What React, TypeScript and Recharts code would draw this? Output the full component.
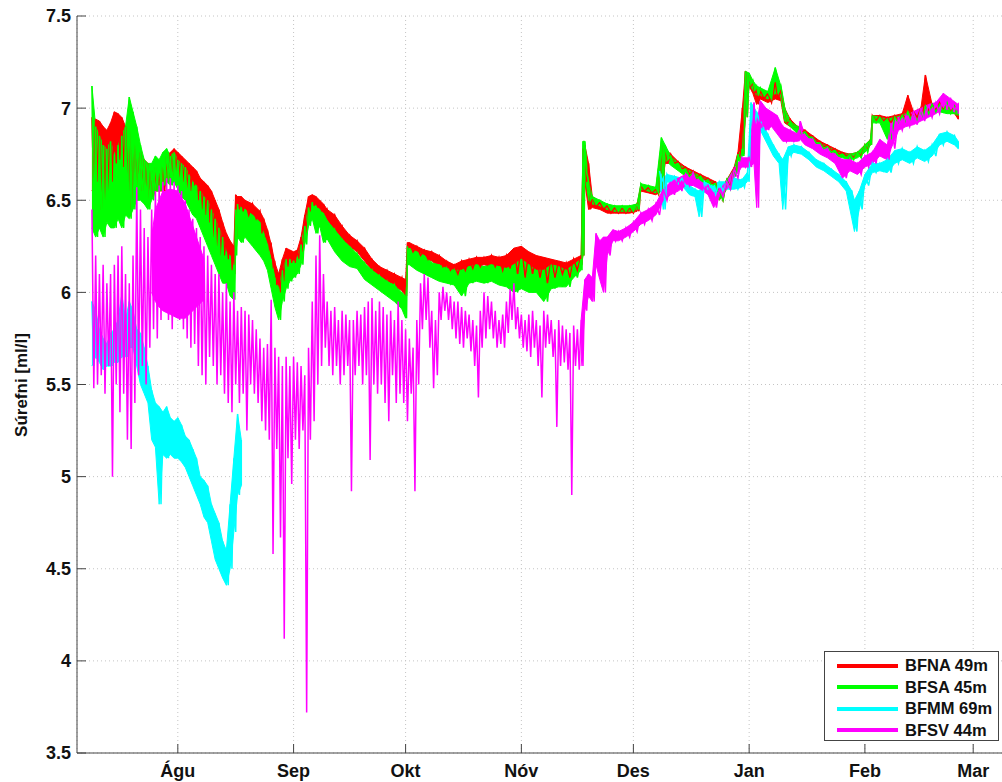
import { ComposedChart, Line, Area, XAxis, YAxis, CartesianGrid, Legend } from "recharts";

// [day since 1 Águ, low, high]
type Sample = [number, number, number];

const MONTH_DAYS = [0, 31, 61, 92, 122, 153, 184, 213];
const MONTH_LABELS = ["Águ", "Sep", "Okt", "Nóv", "Des", "Jan", "Feb", "Mar"];
const Y_TICKS = [3.5, 4, 4.5, 5, 5.5, 6, 6.5, 7, 7.5];

const BFNA: Sample[] = [
  [-23, 6.55, 6.95], [-22, 6.6, 6.94], [-21, 6.45, 6.93], [-20, 6.5, 6.9], [-19, 6.55, 6.88],
  [-18, 6.6, 6.92], [-17, 6.7, 6.98], [-16, 6.72, 6.97], [-15, 6.68, 6.95], [-14, 6.6, 6.9],
  [-13, 6.45, 6.88], [-12, 6.55, 6.85], [-11, 6.58, 6.8], [-10, 6.55, 6.76], [-9, 6.55, 6.72],
  [-8, 6.5, 6.7], [-7, 6.52, 6.66], [-6, 6.55, 6.68], [-5, 6.55, 6.65], [-4, 6.55, 6.7],
  [-3, 6.6, 6.74], [-2, 6.62, 6.76], [-1, 6.65, 6.78], [0, 6.62, 6.76], [1, 6.6, 6.74],
  [2, 6.55, 6.72], [3, 6.55, 6.7], [4, 6.58, 6.68], [5, 6.5, 6.66], [6, 6.45, 6.62],
  [7, 6.42, 6.6], [8, 6.38, 6.58], [9, 6.3, 6.55], [10, 6.25, 6.5], [11, 6.2, 6.45],
  [12, 6.2, 6.38], [13, 6.18, 6.32], [14, 6.12, 6.28], [15, 6.1, 6.25], [15.5, 6.3, 6.53],
  [16, 6.45, 6.52], [17, 6.44, 6.52], [18, 6.42, 6.5], [20, 6.4, 6.48], [22, 6.32, 6.44],
  [23, 6.3, 6.4], [24, 6.24, 6.34], [25, 6.14, 6.26], [26, 6.04, 6.16], [27, 6.0, 6.1],
  [28, 6.06, 6.18], [29, 6.14, 6.24], [30, 6.16, 6.23], [31, 6.16, 6.22], [32, 6.18, 6.23],
  [33, 6.22, 6.3], [34, 6.32, 6.42], [35, 6.44, 6.52], [36, 6.47, 6.53], [37, 6.46, 6.52],
  [38, 6.44, 6.5], [39, 6.42, 6.48], [40, 6.38, 6.45], [42, 6.33, 6.42], [44, 6.28, 6.36],
  [46, 6.25, 6.31], [48, 6.22, 6.28], [50, 6.17, 6.24], [52, 6.12, 6.18], [54, 6.09, 6.14],
  [56, 6.06, 6.12], [58, 6.03, 6.1], [60, 6.01, 6.08], [61, 5.98, 6.07], [61.5, 6.2, 6.27],
  [62, 6.22, 6.27], [64, 6.2, 6.25], [66, 6.18, 6.23], [68, 6.17, 6.22], [70, 6.14, 6.2],
  [72, 6.12, 6.17], [74, 6.1, 6.15], [76, 6.12, 6.17], [78, 6.13, 6.18], [80, 6.14, 6.19],
  [82, 6.15, 6.19], [84, 6.14, 6.2], [86, 6.12, 6.19], [88, 6.13, 6.2], [90, 6.1, 6.24],
  [92, 6.08, 6.25], [94, 6.1, 6.22], [96, 6.08, 6.2], [98, 6.05, 6.19], [100, 6.08, 6.18],
  [102, 6.1, 6.17], [104, 6.08, 6.16], [106, 6.12, 6.18], [108, 6.15, 6.2], [108.5, 6.2, 6.78],
  [109, 6.6, 6.8], [110, 6.45, 6.7], [111, 6.46, 6.52], [113, 6.45, 6.49], [115, 6.43, 6.47],
  [117, 6.43, 6.46], [119, 6.43, 6.46], [121, 6.43, 6.46], [123, 6.44, 6.48], [124, 6.55, 6.58],
  [126, 6.54, 6.57], [128, 6.53, 6.56], [129.5, 6.55, 6.8], [130.5, 6.7, 6.78], [132, 6.7, 6.75],
  [134, 6.67, 6.71], [136, 6.64, 6.68], [138, 6.62, 6.66], [140, 6.61, 6.64], [142, 6.59, 6.62],
  [144, 6.56, 6.6], [145, 6.5, 6.56], [147, 6.57, 6.61], [149, 6.64, 6.68], [150, 6.72, 6.76],
  [151.2, 6.75, 7.0], [152, 6.95, 7.2], [153, 7.12, 7.18], [154, 7.08, 7.14], [155, 7.02, 7.1],
  [156, 7.05, 7.1], [158, 7.03, 7.08], [160, 7.05, 7.14], [161.5, 7.04, 7.1], [162.5, 6.92, 7.0],
  [164, 6.9, 6.94], [166, 6.87, 6.9], [168, 6.85, 6.88], [170, 6.82, 6.85], [172, 6.79, 6.82],
  [174, 6.77, 6.8], [176, 6.75, 6.78], [178, 6.74, 6.76], [180, 6.73, 6.75], [182, 6.74, 6.76],
  [184, 6.77, 6.8], [185.5, 6.8, 6.83], [186, 6.93, 6.96], [188, 6.93, 6.96], [190, 6.92, 6.95],
  [192, 6.93, 6.96], [194, 6.94, 6.97], [195.5, 6.95, 7.07], [197, 6.95, 6.98], [199, 6.96, 7.0],
  [200.2, 6.98, 7.18], [202, 6.99, 7.02], [204, 6.99, 7.03], [206, 6.98, 7.02], [208, 6.97, 7.01],
  [209, 6.94, 6.97],
];

const BFSA: Sample[] = [
  [-23, 6.35, 7.12], [-22, 6.3, 6.9], [-21, 6.35, 6.85], [-20, 6.3, 6.8], [-19, 6.38, 6.78],
  [-18, 6.35, 6.82], [-17, 6.35, 6.75], [-16, 6.4, 6.8], [-15, 6.35, 6.85], [-14, 6.42, 6.9],
  [-13, 6.4, 7.06], [-12, 6.45, 6.98], [-11, 6.5, 6.9], [-10, 6.5, 6.8], [-9, 6.48, 6.72],
  [-8, 6.45, 6.7], [-7, 6.5, 6.7], [-6, 6.55, 6.74], [-5, 6.55, 6.72], [-4, 6.58, 6.76],
  [-3, 6.6, 6.78], [-2, 6.58, 6.74], [-1, 6.6, 6.76], [0, 6.56, 6.72], [1, 6.52, 6.7],
  [2, 6.5, 6.68], [3, 6.46, 6.64], [4, 6.42, 6.6], [5, 6.4, 6.58], [6, 6.35, 6.55],
  [7, 6.3, 6.52], [8, 6.25, 6.5], [9, 6.2, 6.45], [10, 6.15, 6.4], [11, 6.1, 6.35],
  [12, 6.05, 6.3], [13, 6.05, 6.22], [14, 5.98, 6.2], [15, 5.96, 6.15], [15.5, 6.2, 6.45],
  [16, 6.3, 6.48], [17, 6.27, 6.46], [18, 6.3, 6.45], [20, 6.25, 6.42], [22, 6.2, 6.38],
  [23, 6.17, 6.32], [24, 6.12, 6.26], [25, 6.02, 6.18], [26, 5.92, 6.08], [27, 5.85, 6.02],
  [28, 5.95, 6.12], [29, 6.02, 6.18], [30, 6.06, 6.18], [31, 6.08, 6.17], [32, 6.1, 6.19],
  [33, 6.15, 6.26], [34, 6.26, 6.36], [35, 6.36, 6.46], [36, 6.4, 6.49], [37, 6.32, 6.47],
  [38, 6.36, 6.45], [39, 6.27, 6.43], [40, 6.29, 6.39], [42, 6.22, 6.34], [44, 6.17, 6.29],
  [46, 6.14, 6.25], [48, 6.13, 6.21], [50, 6.07, 6.16], [52, 6.04, 6.12], [54, 6.01, 6.09],
  [56, 5.98, 6.06], [58, 5.95, 6.04], [60, 5.91, 6.0], [61, 5.86, 5.98], [61.5, 6.15, 6.25],
  [62, 6.15, 6.24], [64, 6.12, 6.22], [66, 6.1, 6.2], [68, 6.08, 6.16], [70, 6.06, 6.15],
  [72, 6.05, 6.13], [74, 6.04, 6.12], [76, 5.98, 6.12], [78, 6.05, 6.14], [80, 6.06, 6.15],
  [82, 6.05, 6.14], [84, 6.06, 6.15], [86, 6.04, 6.14], [88, 6.03, 6.13], [90, 6.0, 6.15],
  [92, 6.02, 6.18], [94, 6.0, 6.15], [96, 6.0, 6.12], [98, 5.95, 6.12], [100, 6.02, 6.15],
  [102, 6.03, 6.14], [104, 6.03, 6.12], [106, 6.08, 6.15], [108, 6.12, 6.18], [108.5, 6.2, 6.82],
  [109, 6.65, 6.82], [110, 6.5, 6.6], [111, 6.48, 6.52], [113, 6.47, 6.5], [115, 6.45, 6.48],
  [117, 6.44, 6.47], [119, 6.44, 6.47], [121, 6.44, 6.47], [123, 6.45, 6.48], [124, 6.56, 6.59],
  [126, 6.55, 6.58], [128, 6.54, 6.57], [129.5, 6.56, 6.84], [130.5, 6.72, 6.8], [132, 6.69, 6.74],
  [134, 6.66, 6.7], [136, 6.63, 6.67], [138, 6.62, 6.65], [140, 6.6, 6.63], [142, 6.58, 6.61],
  [144, 6.55, 6.59], [145, 6.5, 6.55], [147, 6.56, 6.61], [149, 6.63, 6.67], [150, 6.71, 6.75],
  [151.2, 6.74, 6.78], [152, 6.95, 7.2], [153, 7.13, 7.19], [154, 7.1, 7.15], [155, 7.07, 7.12],
  [156, 7.07, 7.11], [158, 7.05, 7.09], [160, 7.08, 7.22], [161.5, 7.06, 7.12], [162.5, 6.93, 7.0],
  [164, 6.9, 6.93], [166, 6.86, 6.9], [168, 6.84, 6.87], [170, 6.81, 6.84], [172, 6.78, 6.81],
  [174, 6.76, 6.79], [176, 6.74, 6.77], [178, 6.73, 6.75], [180, 6.72, 6.75], [182, 6.73, 6.76],
  [184, 6.76, 6.8], [185.5, 6.8, 6.83], [186, 6.92, 6.96], [188, 6.92, 6.95], [190, 6.83, 6.94],
  [192, 6.92, 6.95], [194, 6.93, 6.96], [195.5, 6.94, 6.98], [197, 6.93, 6.97], [199, 6.95, 6.99],
  [200.2, 6.97, 7.01], [202, 6.98, 7.02], [204, 6.98, 7.02], [206, 6.97, 7.03], [208, 6.97, 7.01],
  [209, 6.96, 6.99],
];

const BFMM_EARLY: Sample[] = [
  [-23, 5.6, 5.95], [-22, 5.65, 5.9], [-21, 5.62, 5.8], [-20, 5.58, 5.75], [-19, 5.6, 5.72],
  [-18, 5.6, 5.78], [-17, 5.62, 5.8], [-16, 5.62, 5.85], [-15, 5.65, 5.99], [-14, 5.65, 5.85],
  [-13, 5.7, 5.95], [-12, 5.7, 5.9], [-11, 5.6, 5.8], [-10, 5.5, 5.78], [-9, 5.45, 5.7],
  [-8, 5.4, 5.6], [-7, 5.2, 5.47], [-6, 5.16, 5.4], [-5, 4.85, 5.38], [-4, 5.12, 5.35],
  [-3, 5.1, 5.38], [-2, 5.12, 5.32], [-1, 5.1, 5.3], [0, 5.1, 5.32], [1, 5.08, 5.28],
  [2, 5.05, 5.22], [3, 5.0, 5.2], [4, 4.95, 5.15], [5, 4.9, 5.1], [6, 4.85, 5.0],
  [7, 4.78, 4.98], [8, 4.75, 4.95], [9, 4.65, 4.85], [10, 4.55, 4.8], [11, 4.5, 4.75],
  [12, 4.45, 4.65], [13, 4.41, 4.6], [14, 4.5, 4.85], [15, 4.7, 5.1], [16, 4.9, 5.34],
  [17, 4.95, 5.2],
];

const BFMM_LATE: Sample[] = [
  [129, 6.6, 6.66], [130, 6.45, 6.62], [131, 6.6, 6.64], [133, 6.59, 6.63], [135, 6.58, 6.62],
  [137, 6.53, 6.58], [138.5, 6.52, 6.56], [139.6, 6.41, 6.55], [141, 6.56, 6.6], [143, 6.53, 6.58],
  [145, 6.55, 6.6], [147, 6.56, 6.6], [149, 6.56, 6.62], [151, 6.57, 6.61], [152.5, 6.6, 6.65],
  [153.5, 6.9, 7.03], [155, 6.93, 6.98], [156.5, 6.86, 6.92], [158, 6.8, 6.86], [159.5, 6.74, 6.8],
  [161, 6.7, 6.75], [162, 6.45, 6.72], [163.5, 6.74, 6.79], [165, 6.76, 6.8], [167, 6.75, 6.79],
  [169, 6.72, 6.76], [171, 6.68, 6.72], [173, 6.66, 6.7], [175, 6.63, 6.67], [177, 6.6, 6.64],
  [179, 6.55, 6.6], [180.5, 6.4, 6.55], [181.2, 6.33, 6.5], [182.5, 6.45, 6.55], [184, 6.58, 6.64],
  [186, 6.65, 6.7], [188, 6.66, 6.7], [190, 6.65, 6.72], [192, 6.7, 6.77], [194, 6.72, 6.78],
  [196, 6.7, 6.76], [198, 6.73, 6.79], [200, 6.71, 6.77], [202, 6.74, 6.8], [204, 6.8, 6.86],
  [206, 6.82, 6.87], [208, 6.8, 6.85], [209, 6.78, 6.82],
];

const BFSV: Sample[] = [
  [-23, 5.48, 6.45], [-22, 5.5, 6.2], [-21, 5.55, 6.1], [-20, 5.45, 6.15], [-19, 5.6, 6.05],
  [-18, 5.0, 6.1], [-17, 5.5, 6.15], [-16, 5.35, 6.2], [-15, 5.45, 6.25], [-14, 5.2, 6.1],
  [-13, 5.15, 6.05], [-12, 5.4, 6.2], [-11, 5.55, 6.57], [-10, 5.6, 6.45], [-9, 5.5, 6.35],
  [-8, 5.7, 6.3], [-7, 5.8, 6.45], [-6, 5.75, 6.55], [-5, 5.85, 6.58], [-4, 5.9, 6.6],
  [-3, 5.85, 6.62], [-2, 5.8, 6.62], [-1, 5.9, 6.6], [0, 5.85, 6.58], [1, 5.8, 6.55],
  [2, 5.75, 6.5], [3, 5.7, 6.45], [4, 5.72, 6.4], [5, 5.6, 6.35], [6, 5.55, 6.3],
  [7, 5.5, 6.25], [8, 5.65, 6.2], [9, 5.6, 6.15], [10, 5.5, 6.1], [11, 5.55, 6.1],
  [12, 5.45, 6.0], [13, 5.4, 6.05], [14, 5.35, 5.95], [15, 5.5, 6.0], [16, 5.4, 5.9],
  [17, 5.45, 5.92], [18, 5.25, 5.9], [19, 5.5, 5.88], [20, 5.45, 5.85], [21, 5.4, 5.8],
  [22, 5.3, 5.75], [23, 5.25, 5.7], [24, 5.2, 5.72], [25, 4.58, 5.96], [26, 5.15, 5.7],
  [27, 4.67, 5.65], [28, 4.12, 5.6], [29, 5.1, 5.65], [30, 4.96, 5.6], [31, 5.2, 5.65],
  [32, 5.15, 5.62], [33, 5.25, 5.6], [34, 3.72, 5.55], [35, 5.2, 5.7], [36, 5.3, 5.95],
  [37, 5.5, 6.2], [38, 5.6, 6.31], [39, 5.7, 6.1], [40, 5.6, 5.95], [41, 5.55, 5.9],
  [42, 5.6, 5.92], [43, 5.5, 5.85], [44, 5.55, 5.9], [45, 5.6, 5.88], [46, 4.92, 5.85],
  [47, 5.55, 5.85], [48, 5.6, 5.9], [49, 5.5, 5.88], [50, 5.55, 5.92], [51, 5.09, 5.95],
  [52, 5.5, 5.97], [53, 5.45, 5.9], [54, 5.5, 5.95], [55, 5.4, 5.92], [56, 5.3, 5.88],
  [57, 5.55, 5.9], [58, 5.4, 5.85], [59, 5.45, 5.95], [60, 5.4, 5.85], [61, 5.3, 5.8],
  [62, 5.45, 5.75], [63, 4.92, 5.7], [64, 5.5, 5.85], [65, 5.8, 6.05], [66, 5.85, 6.1],
  [67, 5.7, 6.08], [68, 5.48, 5.9], [69, 5.55, 5.85], [70, 5.85, 6.0], [71, 5.9, 6.03],
  [72, 5.85, 6.0], [73, 5.8, 5.98], [74, 5.75, 5.95], [75, 5.72, 5.95], [76, 5.7, 5.92],
  [77, 5.75, 5.9], [78, 5.68, 5.88], [79, 5.6, 5.85], [80, 5.43, 5.82], [81, 5.7, 5.9],
  [82, 5.75, 6.0], [83, 5.8, 5.98], [84, 5.75, 5.95], [85, 5.7, 5.9], [86, 5.72, 5.85],
  [87, 5.7, 5.88], [88, 5.78, 5.95], [89, 5.85, 6.02], [90, 5.8, 6.05], [91, 5.75, 5.92],
  [92, 5.7, 5.88], [93, 5.68, 5.85], [94, 5.65, 5.88], [95, 5.7, 5.9], [96, 5.6, 5.85],
  [97, 5.43, 5.82], [98, 5.7, 5.9], [99, 5.72, 5.88], [100, 5.65, 5.85], [101, 5.27, 5.8],
  [102, 5.6, 5.85], [103, 5.62, 5.82], [104, 5.58, 5.8], [105, 4.9, 5.78], [106, 5.6, 5.82],
  [107, 5.58, 5.8], [108, 5.6, 5.85], [109, 5.9, 6.07], [110, 5.98, 6.1], [111, 5.95, 6.08],
  [112, 6.15, 6.32], [113, 6.07, 6.28], [114, 6.0, 6.3], [115, 6.2, 6.3], [116.5, 6.28, 6.34],
  [118, 6.28, 6.33], [120, 6.3, 6.35], [122, 6.33, 6.38], [124, 6.37, 6.43], [126, 6.39, 6.45],
  [128, 6.42, 6.48], [130, 6.5, 6.56], [132, 6.53, 6.6], [134, 6.55, 6.62], [136, 6.58, 6.64],
  [138, 6.58, 6.65], [140, 6.56, 6.6], [142, 6.53, 6.58], [143.5, 6.46, 6.54], [145, 6.52, 6.56],
  [147, 6.56, 6.6], [149, 6.62, 6.67], [151, 6.68, 6.73], [153, 6.68, 6.73], [154.3, 6.7, 7.03],
  [155, 6.46, 6.9], [156, 6.9, 7.04], [157.5, 6.88, 7.0], [159, 6.9, 6.98], [160.5, 6.86, 6.96],
  [162, 6.82, 6.9], [164, 6.82, 6.88], [166, 6.82, 6.86], [166.7, 6.83, 6.93], [168, 6.8, 6.85],
  [170, 6.78, 6.83], [172, 6.75, 6.8], [174, 6.73, 6.78], [176, 6.7, 6.75], [178, 6.62, 6.72],
  [180, 6.66, 6.72], [182, 6.64, 6.7], [184, 6.68, 6.74], [186, 6.7, 6.76], [188, 6.74, 6.83],
  [190, 6.72, 6.8], [191, 6.78, 6.92], [193, 6.88, 6.95], [195, 6.9, 6.96], [197, 6.91, 6.98],
  [199, 6.93, 7.0], [201, 6.95, 7.02], [203, 6.97, 7.03], [205, 7.0, 7.08], [207, 6.99, 7.05],
  [209, 6.97, 7.02],
];

// where the magenta record is packed solid (late Júl – early Águ hump)
const BFSV_CORE: Sample[] = [
  [-7, 6.0, 6.3], [-6, 5.95, 6.45], [-5, 5.92, 6.5], [-4, 5.9, 6.55], [-2, 5.88, 6.56],
  [0, 5.86, 6.55], [2, 5.86, 6.48], [3, 5.88, 6.42], [5, 5.92, 6.3], [7, 5.96, 6.18],
];

const SERIES = [
  { name: "BFNA 49m", color: "#ff0000" },
  { name: "BFSA 45m", color: "#00ff00" },
  { name: "BFMM 69m", color: "#00ffff" },
  { name: "BFSV 44m", color: "#ff00ff" },
];

const FONT = "'Liberation Sans', Arial, Helvetica, sans-serif";

// each sample becomes a high point then a low point, so the trace zigzags like the raw record
function trace(samples: Sample[]) {
  const pts: { d: number; v: number }[] = [];
  samples.forEach(([d, lo, hi], i) => {
    const next = samples[i + 1];
    pts.push({ d, v: hi });
    pts.push({ d: next ? (d + next[0]) / 2 : d, v: lo });
  });
  return pts;
}

// envelope of the noise, filled
function band(samples: Sample[]) {
  return samples.map(([d, lo, hi]) => ({ d, r: [lo, hi] }));
}

const monthLabel = (d: number) => MONTH_LABELS[MONTH_DAYS.indexOf(d)] ?? "";

function LegendBox() {
  return (
    <div
      style={{
        border: "1px solid #444",
        background: "#fff",
        width: 175,
        height: 90,
        padding: "3px 0 0 0",
        boxSizing: "border-box",
        fontFamily: FONT,
        fontWeight: "bold",
        fontSize: 16.5,
        color: "#111",
      }}
    >
      {SERIES.map((s) => (
        <div key={s.name} style={{ display: "flex", alignItems: "center", height: 21.5 }}>
          <span style={{ display: "inline-block", marginLeft: 12, width: 61, height: 4, background: s.color }} />
          <span style={{ marginLeft: 7, whiteSpace: "nowrap" }}>{s.name}</span>
        </div>
      ))}
    </div>
  );
}

function Band({ rows, color }: { rows: Sample[]; color: string }) {
  return (
    <Area
      data={band(rows)}
      dataKey="r"
      type="linear"
      stroke={color}
      strokeWidth={1}
      fill={color}
      fillOpacity={1}
      dot={false}
      activeDot={false}
      isAnimationActive={false}
    />
  );
}

export default function App() {
  const tickStyle = { fill: "#111", fontSize: 18, fontWeight: "bold", fontFamily: FONT };
  const lineProps = { dataKey: "v", strokeWidth: 1.5, dot: false, activeDot: false, isAnimationActive: false };
  const bfsvLate = BFSV.filter((s) => s[0] >= 108);
  return (
    <div
      style={{
        position: "absolute",
        left: 0,
        top: 0,
        width: 1002,
        height: 782,
        overflow: "hidden",
        background: "#fff",
      }}
    >
      <ComposedChart width={1040} height={782} margin={{ top: 16, right: 22, bottom: 0, left: 0 }}>
        <CartesianGrid stroke="#c4c4c4" strokeDasharray="1 3" />
        <XAxis
          dataKey="d"
          type="number"
          domain={[-27, 225]}
          allowDataOverflow
          ticks={MONTH_DAYS}
          interval={0}
          tickFormatter={monthLabel}
          height={29}
          tickSize={-9}
          tickMargin={20}
          stroke="#444"
          tick={tickStyle}
        />
        <XAxis
          xAxisId="top"
          orientation="top"
          dataKey="d"
          type="number"
          domain={[-27, 225]}
          allowDataOverflow
          ticks={MONTH_DAYS}
          interval={0}
          height={0}
          tickSize={-9}
          tick={false}
          stroke="#444"
        />
        <YAxis
          type="number"
          domain={[3.5, 7.5]}
          ticks={Y_TICKS}
          interval={0}
          width={77}
          tickSize={-9}
          tickMargin={15}
          stroke="#444"
          tick={tickStyle}
        />
        {Band({ rows: BFNA, color: SERIES[0].color })}
        <Line data={trace(BFNA)} stroke={SERIES[0].color} {...lineProps} />
        {Band({ rows: BFSA, color: SERIES[1].color })}
        <Line data={trace(BFSA)} stroke={SERIES[1].color} {...lineProps} />
        {Band({ rows: BFMM_EARLY, color: SERIES[2].color })}
        <Line data={trace(BFMM_EARLY)} stroke={SERIES[2].color} {...lineProps} />
        {Band({ rows: BFMM_LATE, color: SERIES[2].color })}
        <Line data={trace(BFMM_LATE)} stroke={SERIES[2].color} {...lineProps} />
        {Band({ rows: BFSV_CORE, color: SERIES[3].color })}
        {Band({ rows: bfsvLate, color: SERIES[3].color })}
        <Line data={trace(BFSV)} stroke={SERIES[3].color} {...lineProps} />
        <Legend
          layout="vertical"
          align="center"
          verticalAlign="middle"
          content={() => <LegendBox />}
          wrapperStyle={{ position: "absolute", left: 824, top: 651, width: 175, height: 90 }}
        />
      </ComposedChart>
      <div
        style={{
          position: "absolute",
          left: 22,
          top: 385,
          transform: "translate(-50%, -50%) rotate(-90deg)",
          whiteSpace: "nowrap",
          fontFamily: FONT,
          fontWeight: "bold",
          fontSize: 17,
          color: "#111",
        }}
      >
        Súrefni [ml/l]
      </div>
    </div>
  );
}
